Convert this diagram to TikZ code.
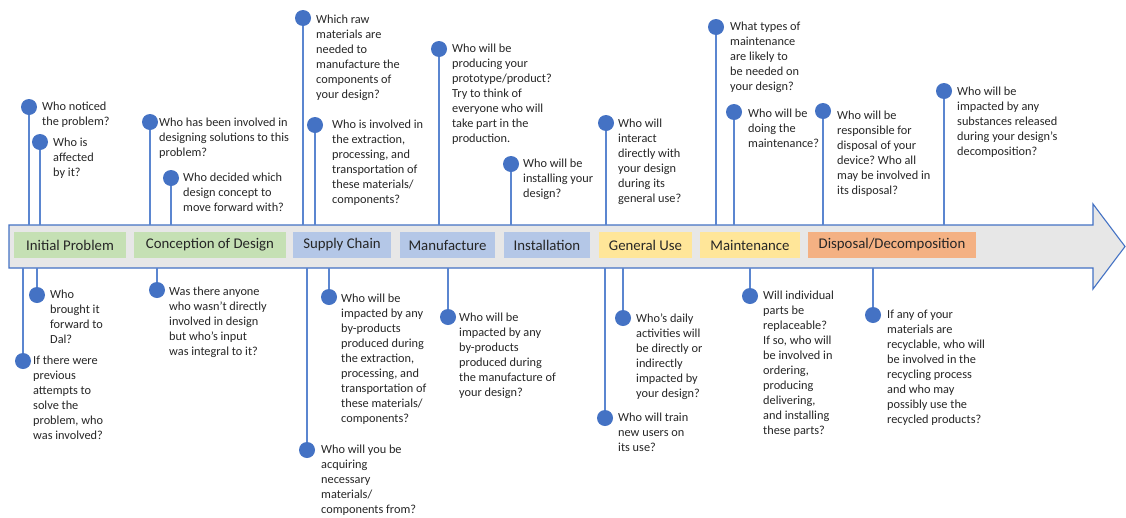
\documentclass[tikz,border=0pt]{standalone}
\usepackage{fontspec}
\setmainfont{Carlito}
\frenchspacing
\definecolor{dotblue}{HTML}{4472C4}
\definecolor{stemblue}{HTML}{5B86D0}
\definecolor{arrowgray}{HTML}{E7E7E7}
\definecolor{txt}{HTML}{262626}
\definecolor{catgreen}{HTML}{C5E0B4}
\definecolor{catblue}{HTML}{B4C7E7}
\definecolor{catyellow}{HTML}{FFE699}
\definecolor{catorange}{HTML}{F4B183}
\tikzset{
  qdot/.style={circle, fill=dotblue, minimum size=16pt, inner sep=0pt},
  qtext/.style={anchor=north west, align=left, inner sep=0pt, text=txt,
    font=\fontsize{12.3}{15}\selectfont, yshift=5.5pt},
  stem/.style={draw=stemblue, line width=1.8pt},
  catbox/.style={minimum height=26pt, inner sep=0pt, text=txt,
    font=\fontsize{14.8}{16}\selectfont},
  bigarrow/.style={fill=arrowgray, draw=dotblue, line width=1.1pt, line join=miter}
}
% question above the timeline: name, dot x, dot y, text x, text y, text
\newcommand{\qup}[6]{%
  \node[qdot] (#1) at (#2,#3) {};
  \node[qtext] (#1t) at (#4,#5) {#6};
  \draw[stem] (#1.south) -- (#1.south |- top);
}
% question below the timeline
\newcommand{\qdown}[6]{%
  \node[qdot] (#1) at (#2,#3) {};
  \node[qtext] (#1t) at (#4,#5) {#6};
  \draw[stem] (#1.north) -- (#1.north |- bot);
}
\begin{document}
\begin{tikzpicture}[x=1pt, y=-1pt]
\useasboundingbox (0,0) rectangle (1126,517);
\fill[white] (0,0) rectangle (1126,517);

% the timeline arrow
\draw[bigarrow] (9,225) -- (1093,225) -- (1093,204) -- (1125,246.5)
  -- (1093,289) -- (1093,268) -- (9,268) -- cycle;
\coordinate (top) at (0,225);
\coordinate (bot) at (0,268);

% stage labels
\node[catbox, fill=catgreen,  minimum width=112pt] (s1) at (70,245)   {Initial Problem};
\node[catbox, fill=catgreen,  minimum width=152pt] (s2) at (210,245)  {Conception of Design};
\node[catbox, fill=catblue,   minimum width=98pt]  (s3) at (342,245)  {Supply Chain};
\node[catbox, fill=catblue,   minimum width=95pt]  (s4) at (447.5,245){Manufacture};
\node[catbox, fill=catblue,   minimum width=86pt]  (s5) at (547,245)  {Installation};
\node[catbox, fill=catyellow, minimum width=93pt]  (s6) at (645.5,245){General Use};
\node[catbox, fill=catyellow, minimum width=100pt] (s7) at (750,245)  {Maintenance};
\node[catbox, fill=catorange, minimum width=168pt] (s8) at (892,245)  {Disposal/Decomposition};

% questions above
\qup{a1}{29}{107}{42}{107}{Who noticed\\the problem?}
\qup{a2}{40}{142}{53}{143}{Who is\\affected\\by it?}
\qup{a3}{150}{122}{159}{123}{Who has been involved in\\designing solutions to this\\problem?}
\qup{a4}{171}{178}{183}{178}{Who decided which\\design concept to\\move forward with?}
\qup{a5}{303}{18}{316}{20}{Which raw\\materials are\\needed to\\manufacture the\\components of\\your design?}
\qup{a6}{315}{125}{332}{125}{Who is involved in\\the extraction,\\processing, and\\transportation of\\these materials/\\components?}
\qup{a7}{439}{49}{452}{49}{Who will be\\producing your\\prototype/product?\\Try to think of\\everyone who will\\take part in the\\production.}
\qup{a8}{511}{164}{523}{164}{Who will be\\installing your\\design?}
\qup{a9}{606}{123}{618}{124}{Who will\\interact\\directly with\\your design\\during its\\general use?}
\qup{a10}{716}{27}{730}{27}{What types of\\maintenance\\are likely to\\be needed on\\your design?}
\qup{a11}{734}{112}{748}{114}{Who will be\\doing the\\maintenance?}
\qup{a12}{823}{111}{837}{116}{Who will be\\responsible for\\disposal of your\\device? Who all\\may be involved in\\its disposal?}
\qup{a13}{944}{91}{957}{92}{Who will be\\impacted by any\\substances released\\during your design’s\\decomposition?}

% questions below
\qdown{b1}{23}{361}{33}{361}{If there were\\previous\\attempts to\\solve the\\problem, who\\was involved?}
\qdown{b2}{37}{295}{50}{295}{Who\\brought it\\forward to\\Dal?}
\qdown{b3}{157}{290}{169}{292}{Was there anyone\\who wasn’t directly\\involved in design\\but who’s input\\was integral to it?}
\qdown{b4}{307}{450}{321}{450}{Who will you be\\acquiring\\necessary\\materials/\\components from?}
\qdown{b5}{329}{297}{341}{299}{Who will be\\impacted by any\\by-products\\produced during\\the extraction,\\processing, and\\transportation of\\these materials/\\components?}
\qdown{b6}{448}{317}{459}{318}{Who will be\\impacted by any\\by-products\\produced during\\the manufacture of\\your design?}
\qdown{b7}{605}{418}{618}{418}{Who will train\\new users on\\its use?}
\qdown{b8}{623}{318}{636}{319}{Who’s daily\\activities will\\be directly or\\indirectly\\impacted by\\your design?}
\qdown{b9}{750}{296}{763}{296}{Will individual\\parts be\\replaceable?\\If so, who will\\be involved in\\ordering,\\producing\\delivering,\\and installing\\these parts?}
\qdown{b10}{873}{315}{887}{315}{If any of your\\materials are\\recyclable, who will\\be involved in the\\recycling process\\and who may\\possibly use the\\recycled products?}
\end{tikzpicture}
\end{document}
